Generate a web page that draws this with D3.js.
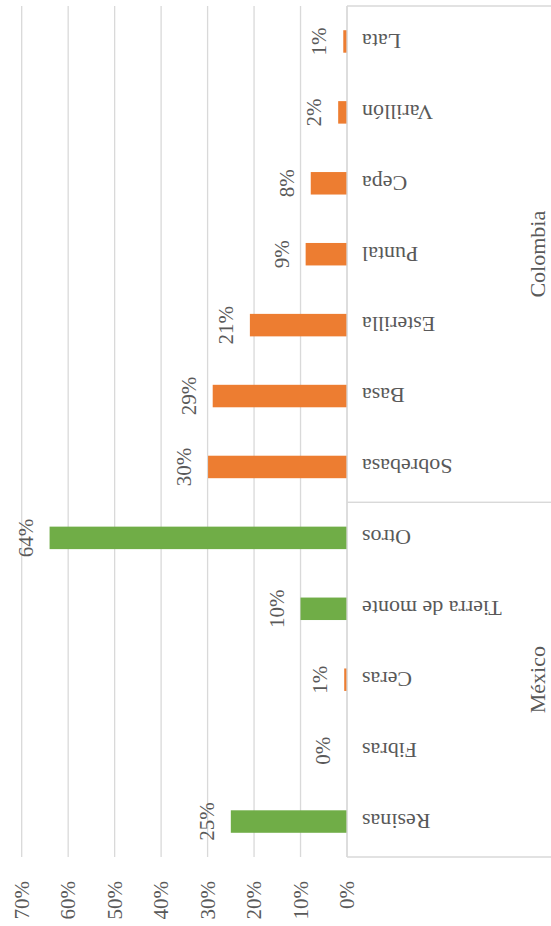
<!DOCTYPE html>
<html>
<head>
<meta charset="utf-8">
<script src="https://cdn.jsdelivr.net/npm/d3@7"></script>
<style>
  html, body { margin: 0; padding: 0; background: #fff; }
  svg { display: block; }
  text { font-family: "Liberation Serif", "DejaVu Serif", serif; fill: #595959; }
</style>
</head>
<body>
<svg id="chart" width="551" height="926"></svg>
<script>
// Materials by country (share of total)
const categories = ["Resinas", "Fibras", "Ceras", "Tierra de monte", "Otros",
                    "Sobrebasa", "Basa", "Esterilla", "Puntal", "Cepa", "Varillón", "Lata"];
const countries  = ["México", "México", "México", "México", "México",
                    "Colombia", "Colombia", "Colombia", "Colombia", "Colombia", "Colombia", "Colombia"];
const series     = ["Serie 1", "Serie 1", "Serie 2", "Serie 1", "Serie 1",
                    "Serie 2", "Serie 2", "Serie 2", "Serie 2", "Serie 2", "Serie 2", "Serie 2"];
const values     = [0.25, 0.0, 0.006, 0.10, 0.64,
                    0.299, 0.289, 0.209, 0.089, 0.078, 0.019, 0.008];
const valueTicks = [0, 0.1, 0.2, 0.3, 0.4, 0.5, 0.6, 0.7];

const data = categories.map((c, i) => ({ cat: c, country: countries[i], series: series[i], value: values[i] }));

// The chart is laid out as an ordinary column chart (926 wide, 551 tall)
// and then turned a quarter turn counter-clockwise onto the page.
const W = 926, H = 551;
const svg = d3.select("#chart");
const g = svg.append("g").attr("transform", `translate(0,${W}) rotate(-90)`);

const x0 = 69, x1 = 920;
const yBase = 347, yTop = 21.7;
const gap = 0.683;

const x = d3.scaleBand().domain(categories).range([x0, x1])
  .paddingInner(gap).paddingOuter(gap / 2);
const y = d3.scaleLinear().domain([0, 0.7]).range([yBase, yTop]);
const color = d3.scaleOrdinal().domain(["Serie 1", "Serie 2"]).range(["#70AD47", "#ED7D31"]);
const pct = d3.format(".0%");

// gridlines
g.append("g").selectAll("line").data(valueTicks).join("line")
  .attr("x1", x0).attr("x2", x1)
  .attr("y1", d => y(d)).attr("y2", d => y(d))
  .attr("stroke", "#d9d9d9").attr("stroke-width", 1.3);

// value axis labels
const yAxis = d3.axisLeft(y).tickValues(valueTicks).tickFormat(pct).tickSize(0).tickPadding(0);
const ya = g.append("g").attr("transform", "translate(45,0)").call(yAxis);
ya.select(".domain").remove();
ya.selectAll("text").attr("font-size", 21).attr("fill", "#595959")
  .attr("font-family", "Liberation Serif, serif");

// bars
g.append("g").selectAll("rect").data(data).join("rect")
  .attr("x", d => x(d.cat)).attr("width", x.bandwidth())
  .attr("y", d => y(d.value)).attr("height", d => yBase - y(d.value))
  .attr("fill", d => color(d.series));

// data labels
g.append("g").selectAll("text").data(data).join("text")
  .attr("x", d => x(d.cat) + x.bandwidth() / 2)
  .attr("y", d => y(d.value) - 17)
  .attr("text-anchor", "middle").attr("font-size", 21)
  .text(d => pct(d.value));

// category axis: baseline plus group dividers
const axisG = g.append("g").attr("stroke", "#d9d9d9").attr("stroke-width", 1.3);
axisG.append("line").attr("x1", x0).attr("x2", x1).attr("y1", yBase).attr("y2", yBase);

const groups = d3.groups(data, d => d.country).map(([name, rows]) => ({
  name,
  start: x(rows[0].cat) - x.step() * gap / 2,
  end: x(rows[rows.length - 1].cat) + x.bandwidth() + x.step() * gap / 2
}));
const edges = Array.from(new Set(groups.flatMap(gr => [gr.start, gr.end])));
axisG.selectAll("line.div").data(edges).join("line").attr("class", "div")
  .attr("x1", d => d).attr("x2", d => d).attr("y1", yBase).attr("y2", H + 2);

// category labels (rotated)
g.append("g").selectAll("text").data(data).join("text")
  .attr("transform", d => `translate(${x(d.cat) + x.bandwidth() / 2},362) rotate(-90)`)
  .attr("text-anchor", "end").attr("dy", "0.35em").attr("font-size", 22)
  .text(d => d.cat);

// country labels
g.append("g").selectAll("text").data(groups).join("text")
  .attr("x", d => (d.start + d.end) / 2).attr("y", 545)
  .attr("text-anchor", "middle").attr("font-size", 22)
  .text(d => d.name);
</script>
</body>
</html>
